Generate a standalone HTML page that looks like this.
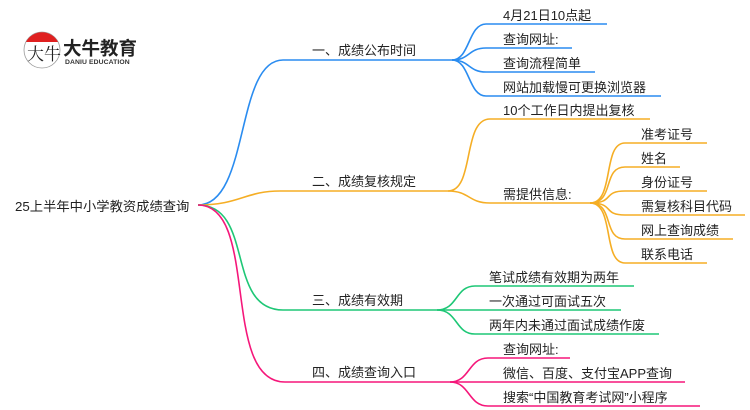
<!DOCTYPE html>
<html><head><meta charset="utf-8"><style>
html,body{margin:0;padding:0;background:#fff;width:750px;height:410px;overflow:hidden}
svg text{font-family:"Liberation Sans","Noto Sans CJK SC",sans-serif;font-size:13px;fill:#222}
</style></head><body>
<svg width="750" height="410" viewBox="0 0 750 410" xmlns="http://www.w3.org/2000/svg">
<g fill="none" stroke-width="1.6">
<g stroke="#2a8cf0">
<path d="M198,205 C250,205 235,60 283,60 L452,60"/>
<path d="M452,60 C470,60 468,24 486,24 L607,24"/>
<path d="M452,60 C470,60 468,48 486,48 L572,48"/>
<path d="M452,60 C470,60 468,72 486,72 L595,72"/>
<path d="M452,60 C470,60 468,96 486,96 L661,96"/>
</g>
<g stroke="#f5ae25">
<path d="M198,205 C240,205 245,191 280,191 L448,191"/>
<path d="M448,191 C475,191 462,119 490,119 L650,119"/>
<path d="M448,191 C470,191 468,203 490,203 L590,203"/>
<path d="M590,203 C615,203 602,143 625,143 L707,143"/>
<path d="M590,203 C615,203 602,167 625,167 L680,167"/>
<path d="M590,203 C615,203 602,191 625,191 L707,191"/>
<path d="M590,203 C615,203 602,215 625,215 L745,215"/>
<path d="M590,203 C615,203 602,239 625,239 L733,239"/>
<path d="M590,203 C615,203 602,263 625,263 L707,263"/>
</g>
<g stroke="#1ec776">
<path d="M198,205 C255,205 225,310 283,310 L437,310"/>
<path d="M437,310 C458,310 455,286 475,286 L634,286"/>
<path d="M437,310 L621,310"/>
<path d="M437,310 C458,310 455,334 475,334 L659,334"/>
</g>
<g stroke="#f5177a">
<path d="M198,205 C260,205 220,382 285,382 L450,382"/>
<path d="M450,382 C470,382 468,358 488,358 L570,358"/>
<path d="M450,382 L685,382"/>
<path d="M450,382 C470,382 468,406 488,406 L700,406"/>
</g>
</g>
<text x="15" y="211" style="font-size:13.3px">25上半年中小学教资成绩查询</text>
<text x="312" y="55">一、成绩公布时间</text>
<text x="503" y="20">4月21日10点起</text>
<text x="503" y="44">查询网址:</text>
<text x="503" y="68">查询流程简单</text>
<text x="503" y="92">网站加载慢可更换浏览器</text>
<text x="312" y="186">二、成绩复核规定</text>
<text x="503" y="115">10个工作日内提出复核</text>
<text x="503" y="199">需提供信息:</text>
<text x="641" y="139">准考证号</text>
<text x="641" y="163">姓名</text>
<text x="641" y="187">身份证号</text>
<text x="641" y="211">需复核科目代码</text>
<text x="641" y="235">网上查询成绩</text>
<text x="641" y="259">联系电话</text>
<text x="312" y="305">三、成绩有效期</text>
<text x="489" y="282">笔试成绩有效期为两年</text>
<text x="489" y="306">一次通过可面试五次</text>
<text x="489" y="330">两年内未通过面试成绩作废</text>
<text x="312" y="377">四、成绩查询入口</text>
<text x="503" y="354">查询网址:</text>
<text x="503" y="378">微信、百度、支付宝APP查询</text>
<text x="503" y="402">搜索“中国教育考试网”小程序</text>
<circle cx="42" cy="50" r="18" fill="#fff" stroke="#999" stroke-width="0.8"/>
<path d="M26,42 A18,18 0 0 1 58,42 Z" fill="#e02020"/>
<text x="27" y="60" style="font-size:17px;font-family:'Noto Serif CJK SC',serif">大牛</text>
<text x="63" y="55" style="font-size:18.5px;font-weight:bold;fill:#222">大牛教育</text>
<text x="65" y="64" style="font-size:6.8px;font-weight:bold;fill:#333;letter-spacing:0.1px">DANIU EDUCATION</text>
</svg>
</body></html>
